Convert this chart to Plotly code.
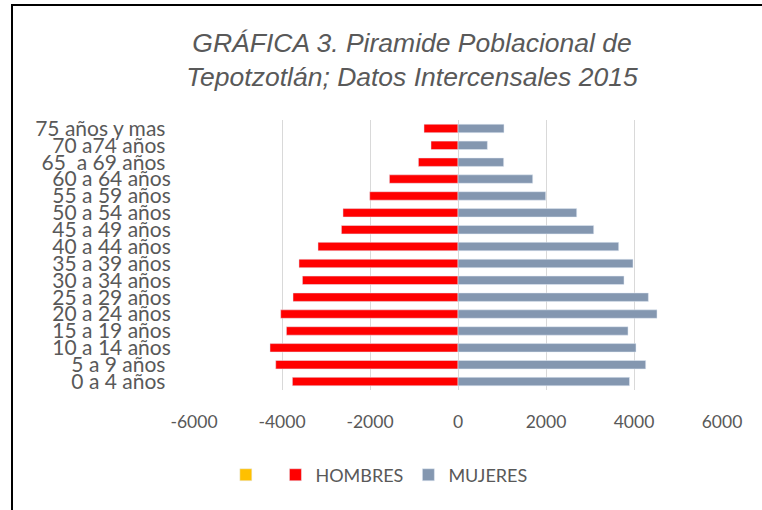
import plotly.graph_objects as go

# grupos de edad, de abajo hacia arriba
edades = ["0 a 4 años\u00a0", "5 a 9 años\u00a0", "10 a 14 años", "15 a 19 años",
          "20 a 24 años", "25 a 29 años", "30 a 34 años", "35 a 39 años",
          "40 a 44 años", "45 a 49 años", "50 a 54 años", "55 a 59 años",
          "60 a 64 años", "65\u00a0\u00a0a 69 años\u00a0", "70 a74 años\u00a0",
          "75 años y mas\u00a0"]
hombres = [-3764, -4143, -4273, -3900, -4030, -3750, -3536, -3614,
           -3182, -2650, -2614, -2007, -1559, -900, -614, -773]
mujeres = [3898, 4266, 4045, 3864, 4523, 4327, 3773, 3977,
           3652, 3084, 2698, 1993, 1698, 1038, 668, 1045]
serie_vacia = [0] * len(edades)

x_ticks = [-6000, -4000, -2000, 0, 2000, 4000, 6000]
x_labels = ["-6000", "-4000", "-2000", "0", "2000", "4000", "6000"]

gris = "#595959"

fig = go.Figure([
    go.Bar(name="\u00a0", y=edades, x=serie_vacia, orientation="h",
           marker=dict(color="#FFC000")),
    go.Bar(name="HOMBRES", y=edades, x=hombres, orientation="h",
           marker=dict(color="#FF0000")),
    go.Bar(name="MUJERES", y=edades, x=mujeres, orientation="h",
           marker=dict(color="#8497B0")),
])

fig.update_layout(
    width=762, height=510,
    margin=dict(l=194, r=40, t=120, b=120),
    paper_bgcolor="white", plot_bgcolor="white",
    barmode="overlay", bargap=0.5,
    title=dict(
        text="<i>GRÁFICA 3. Piramide Poblacional de<br>Tepotzotlán; Datos Intercensales 2015</i>",
        font=dict(family="Liberation Sans, Arial", size=26.5, color=gris),
        x=0.5407, xanchor="center", xref="container",
        y=0.899, yanchor="middle", yref="container",
    ),
    font=dict(family="Lato", color=gris),
    legend=dict(orientation="h", x=0.351, xanchor="center", y=-0.315, yanchor="middle",
                font=dict(size=18, color=gris), traceorder="normal"),
    xaxis=dict(range=[-6000, 6000], tickvals=x_ticks, ticktext=x_labels,
               showgrid=True, gridcolor="#D9D9D9", gridwidth=1,
               zeroline=True, zerolinecolor="#D9D9D9", zerolinewidth=1,
               showline=False, ticks="outside", ticklen=16, tickcolor="rgba(0,0,0,0)",
               tickfont=dict(size=17.5, color=gris), automargin=False, fixedrange=True),
    yaxis=dict(categoryorder="array", categoryarray=edades,
               tickmode="array", tickvals=edades,
               showgrid=False, showline=False, zeroline=False,
               ticks="outside", ticklen=18, tickcolor="rgba(0,0,0,0)",
               tickfont=dict(size=21, color=gris), automargin=False),
    shapes=[dict(type="rect", xref="paper", yref="paper",
                 x0=-0.3447, x1=1.2, y0=-0.5, y1=1.426,
                 line=dict(color="black", width=2), fillcolor="rgba(0,0,0,0)")],
)

fig.write_html("out.html", config={"displayModeBar": False},
               post_script="document.body.style.margin='0';")
